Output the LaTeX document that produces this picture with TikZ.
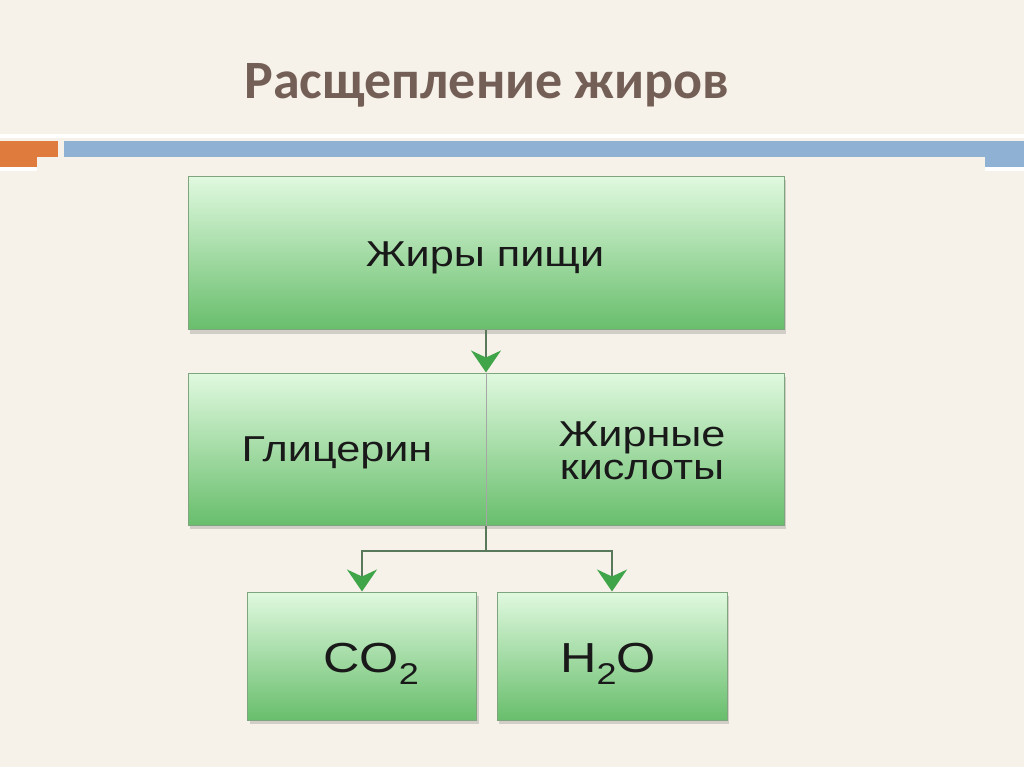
\documentclass[tikz,border=0pt]{standalone}
\usepackage{fontspec}
\setmainfont{Liberation Sans}
\newfontfamily\headfont{Carlito}
\newfontfamily\boxfont{Liberation Sans}[FakeStretch=1.2]
\usepackage{tikz}
\usetikzlibrary{positioning, arrows.meta, shadows}
\definecolor{pagebg}{HTML}{F6F2EA}
\definecolor{headbrown}{HTML}{745F57}
\definecolor{barorange}{HTML}{E07B3E}
\definecolor{barblue}{HTML}{8EB1D4}
\definecolor{boxtop}{HTML}{E0F9DF}
\definecolor{boxbot}{HTML}{68BE6C}
\definecolor{boxline}{HTML}{7FA57F}
\definecolor{linkline}{HTML}{587A5A}
\definecolor{tipgreen}{HTML}{40A448}
\tikzset{
  blk/.style={rectangle, draw=boxline, line width=1pt, top color=boxtop, bottom color=boxbot,
              drop shadow={shadow xshift=2pt, shadow yshift=-4pt, opacity=0.25, fill=black!60},
              inner sep=0pt},
  txt/.style={font=\boxfont\fontsize{36}{33}\selectfont, text=black!90, inner sep=0pt, align=center},
  big/.style={font=\boxfont\fontsize{42}{42}\selectfont, text=black!90, inner sep=0pt, anchor=base},
  link/.style={draw=linkline, line width=1.8pt},
  flow/.style={link, -{Stealth[length=22pt, width=30pt, inset=7pt, color=tipgreen]}},
  divider/.style={draw=black!35, line width=0.8pt}
}
\newcommand{\subtwo}{\raisebox{-0.3em}{\fontsize{30}{30}\selectfont 2}}

\begin{document}
\begin{tikzpicture}[x=1pt, y=-1pt]
  \useasboundingbox (0,0) rectangle (1024,767);
  \fill[pagebg] (0,0) rectangle (1024,767);
  % Header bars
  \fill[white] (0,134) rectangle (1024,138);
  \fill[barorange] (0,141) rectangle (58,157);
  \fill[barorange] (0,157) rectangle (37,167);
  \fill[barblue] (64,141) rectangle (1024,157);
  \fill[barblue] (985,157) rectangle (1024,167);
  \fill[white] (0,167) rectangle (37,171);
  \fill[white] (985,167) rectangle (1024,171);
  \node[font=\headfont\bfseries\fontsize{54}{54}\selectfont, text=headbrown, anchor=base] (head) at (487,99) {Расщепление жиров};
  % Boxes
  \node[blk, minimum width=596pt, minimum height=153pt] (fats) at (486,253) {};
  \node[txt, anchor=base] (fatsl) at (485,266) {Жиры пищи};
  \node[blk, minimum width=596pt, minimum height=152pt] (split) at (486,449) {};
  \node[txt, anchor=base] (glyc) at (337,461) {Глицерин};
  \node[txt] (acid) at (642,451) {Жирные\\кислоты};
  \node[blk, minimum width=229pt, minimum height=128pt] (co2) at (362,656) {};
  \node[big] (co2l) at (371,672) {CO\subtwo};
  \node[blk, minimum width=230pt, minimum height=128pt] (water) at (612,656) {};
  \node[big] (waterl) at (608,672) {H\subtwo O};
  % Connectors
  \draw[divider] (split.north) -- (split.south);
  \draw[flow] (fats) -- (split);
  \coordinate (fork) at (486,551);
  \draw[link] (split.south) -- (fork);
  \draw[flow] (fork) -| (co2.north);
  \draw[flow] (fork) -| (water.north);
\end{tikzpicture}
\end{document}
